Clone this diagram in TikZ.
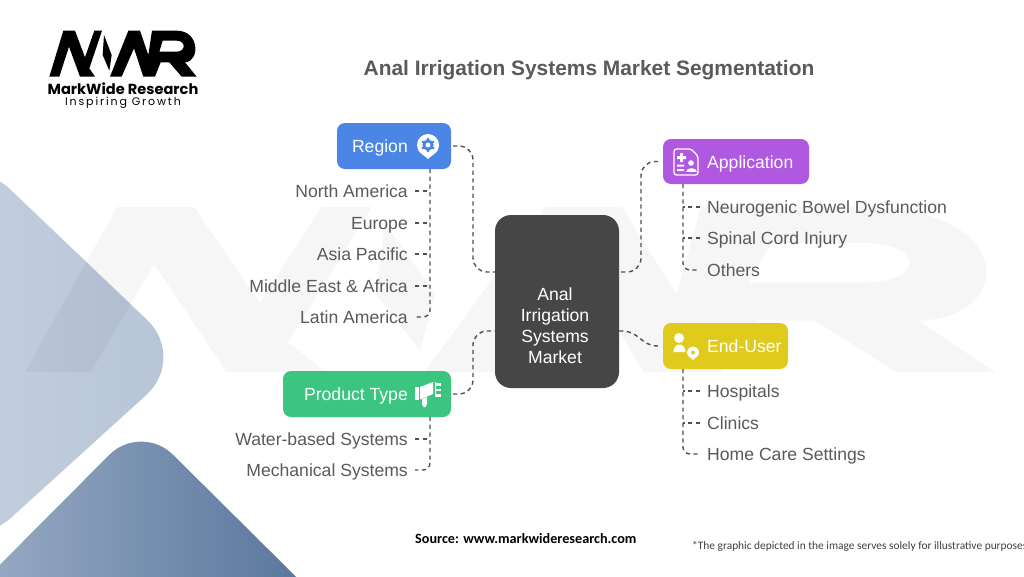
\documentclass[tikz,border=0pt]{standalone}
\usepackage{fontspec}
\setmainfont{Liberation Sans}
\newfontfamily\logofont{Poppins}
\newfontfamily\logospaced[LetterSpace=17]{Poppins}
\newfontfamily\notefont{Carlito}
\usetikzlibrary{arrows.meta,positioning,calc,shapes.geometric}
\definecolor{regionblue}{HTML}{4B86E6}
\definecolor{applypurple}{HTML}{B158E0}
\definecolor{productgreen}{HTML}{3CC481}
\definecolor{useryellow}{HTML}{E0CB1C}
\definecolor{centregrey}{HTML}{464646}
\definecolor{itemgrey}{HTML}{5A5A5A}
\definecolor{linkgrey}{HTML}{505050}
\tikzset{
  catbox/.style={shape=rectangle,rounded corners=8pt,minimum height=46pt,inner sep=0pt,outer sep=0pt},
  catlabel/.style={inner sep=0pt,text=white,text height=12pt,text depth=0pt,font=\fontsize{17.6}{20}\selectfont},
  itemleft/.style={anchor=east,inner sep=0pt,text=itemgrey,text height=12pt,text depth=0pt,font=\fontsize{17.6}{20}\selectfont},
  itemright/.style={anchor=west,inner sep=0pt,text=itemgrey,text height=12pt,text depth=0pt,font=\fontsize{17.6}{20}\selectfont},
  linkdash/.style={draw=linkgrey,line width=1.4pt,dash pattern=on 4.2pt off 3.5pt},
}
\newcommand{\mwrmark}{%
  (148,230)--(190,92)--(225,92)--(255,172)--(283,92)--(306,92)--(268,205)--(285,230)--(240,230)--(207,140)--(178,230)--cycle
  (312,105)--(335,165)--(328,212)--(308,165)--cycle
  (330,230)--(385,92)--(420,92)--(445,165)--(456,92)--(530,92)..controls (600,92) and (600,185) .. (555,187)--(590,230)--(545,230)--(508,187)--(482,187)--(465,230)--(430,230)--(402,145)--(365,230)--cycle
  (488,122)--(530,122)..controls (558,122) and (558,155) .. (530,155)--(478,155)--cycle}
\begin{document}
\begin{tikzpicture}[x=1pt,y=-1pt]
  \useasboundingbox (0,0) rectangle (1024,576);
  \fill[white] (0,0) rectangle (1024,576);
  \begin{scope}
    \clip (0,0) rectangle (1024,576);
    \shade[rounded corners=55pt,shading angle=120,
      left color={rgb,255:red,208;green,217;blue,228},right color={rgb,255:red,182;green,196;blue,214}]
      (-30,151) -- (187,358) -- (-30,555) -- (-250,355) -- cycle;
    \shade[rounded corners=45pt,shading angle=115,
      left color={rgb,255:red,168;green,184;blue,206},right color={rgb,255:red,72;green,104;blue,146}]
      (141,423) -- (391,671) -- (141,920) -- (-100,665) -- cycle;
  \end{scope}
  \begin{scope}[shift={(-300,97)},xscale=2.195,yscale=1.196]
    \fill[black,opacity=0.035,even odd rule] \mwrmark;
  \end{scope}
  \begin{scope}[xscale=1/3,yscale=1/3]
    \fill[black,even odd rule] \mwrmark;
  \end{scope}
  \node[inner sep=0pt,text height=10pt,text depth=0pt,font=\logofont\bfseries\fontsize{14.6}{16}\selectfont] (brand) at (123,89) {MarkWide Research};
  \node[inner sep=0pt,text height=8pt,text depth=0pt,font=\logospaced\fontsize{11}{12}\selectfont] (slogan) at (123,101.5) {Inspiring Growth};
  \node[inner sep=0pt,text=itemgrey,font=\bfseries\fontsize{20.9}{24}\selectfont] (title) at (589,70) {Anal Irrigation Systems Market Segmentation};

  \node[catbox,fill=centregrey,rounded corners=16pt,minimum width=124pt,minimum height=173pt] (centre) at (557,301.5) {};
  \node[inner sep=0pt,text=white,align=center,font=\fontsize{17.6}{21}\selectfont] (centretext) at (555,326) {Anal\\Irrigation\\Systems\\Market};
  \node[catbox,fill=regionblue,minimum width=114pt] (region) at (394,146) {};
  \node[catbox,fill=applypurple,minimum width=146pt,minimum height=45pt] (application) at (736,161.5) {};
  \node[catbox,fill=productgreen,minimum width=168pt] (product) at (367,394) {};
  \node[catbox,fill=useryellow,minimum width=125pt] (enduser) at (725.5,346) {};
  \node[catlabel,anchor=east] (regiontext) at (408,146) {Region};
  \node[catlabel,anchor=west] (applicationtext) at (707,162) {Application};
  \node[catlabel,anchor=east] (producttext) at (408,394) {Product Type};
  \node[catlabel,anchor=west] (endusertext) at (707,346) {End-User};

  \node[itemleft] (northam) at (408,191) {North America};
  \node[itemleft] (europe) at (408,223) {Europe};
  \node[itemleft] (asia) at (408,254) {Asia Pacific};
  \node[itemleft] (mideast) at (408,286) {Middle East \& Africa};
  \node[itemleft] (latin) at (408,317) {Latin America};
  \node[itemleft] (water) at (408,439) {Water-based Systems};
  \node[itemleft] (mech) at (408,470) {Mechanical Systems};
  \node[itemright] (neuro) at (707,207) {Neurogenic Bowel Dysfunction};
  \node[itemright] (spinal) at (707,238) {Spinal Cord Injury};
  \node[itemright] (others) at (707,270) {Others};
  \node[itemright] (hospitals) at (707,391) {Hospitals};
  \node[itemright] (clinics) at (707,423) {Clinics};
  \node[itemright] (homecare) at (707,454) {Home Care Settings};

  \node[inner sep=0pt,anchor=mid west,font=\notefont\bfseries\fontsize{14.2}{16}\selectfont] (source) at (415,541) {Source: www.markwideresearch.com};
  \node[inner sep=0pt,anchor=mid west,text=black!75,font=\notefont\fontsize{11.4}{13}\selectfont] (note) at (692,547) {*The graphic depicted in the image serves solely for illustrative purposes};

  % links to the centre
  \coordinate (leftupper) at ([yshift=29.5]centre.west);
  \coordinate (leftlower) at ([yshift=-29.5]centre.west);
  \coordinate (rightupper) at ([yshift=29.5]centre.east);
  \coordinate (rightlower) at ([yshift=-29.5]centre.east);
  \draw[linkdash,rounded corners=14pt] ([xshift=2]region.east) -| ([xshift=-22]leftupper) -- (leftupper);
  \draw[linkdash,rounded corners=14pt] ([xshift=2]product.east) -| ([xshift=-22]leftlower) -- (leftlower);
  \draw[linkdash,rounded corners=14pt] ([xshift=-5]application.west) -| ([xshift=22]rightupper) -- (rightupper);
  \draw[linkdash] ([xshift=-5]enduser.west) .. controls (640,346) and (640,330) .. (rightlower);

  % trunks and branches
  \coordinate (regiontrunk) at ([xshift=-21]region.south east);
  \coordinate (producttrunk) at ([xshift=-21]product.south east);
  \coordinate (applicationtrunk) at ([xshift=-126]application.south east);
  \coordinate (endusertrunk) at ([xshift=-105]enduser.south east);
  \draw[linkdash,rounded corners=7pt] (regiontrunk) |- ([xshift=7]latin.east);
  \draw[linkdash,rounded corners=7pt] (producttrunk) |- ([xshift=7]mech.east);
  \draw[linkdash,rounded corners=7pt] (applicationtrunk) |- ([xshift=-7]others.west);
  \draw[linkdash,rounded corners=7pt] (endusertrunk) |- ([xshift=-7]homecare.west);
  \foreach \item in {northam,europe,asia,mideast}
    \draw[linkdash] ([xshift=7]\item.east) -- (\item.east -| regiontrunk);
  \draw[linkdash] ([xshift=7]water.east) -- (water.east -| producttrunk);
  \foreach \item in {neuro,spinal}
    \draw[linkdash] ([xshift=-7]\item.west) -- (\item.west -| applicationtrunk);
  \foreach \item in {hospitals,clinics}
    \draw[linkdash] ([xshift=-7]\item.west) -- (\item.west -| endusertrunk);

  % pin with gear
  \begin{scope}[shift={(428,145)}]
    \fill[white] (0,0) circle (11);
    \fill[white] (-10,4.5) .. controls (-7,9) and (-3,11) .. (0,14) .. controls (3,11) and (7,9) .. (10,4.5) -- cycle;
    \fill[regionblue] (0,0) circle (5.6);
    \foreach \a in {30,90,...,330} \fill[regionblue] (\a:5.8) circle (1.6);
    \fill[white] (0,0) circle (2.4);
  \end{scope}
  % chart with cross
  \begin{scope}[shift={(674,149)}]
    \draw[white,line width=1.3pt,rounded corners=2.5pt] (0,0) -- (17,0) -- (24,7) -- (24,26) -- (0,26) -- cycle;
    \fill[white] (6,4) rectangle (9,13) (3,7) rectangle (12,10);
    \fill[white] (17,14) circle (2.8);
    \fill[white] (11.5,23) .. controls (11.5,17.5) and (22.5,17.5) .. (22.5,23) -- cycle;
    \fill[white] (3,15.5) rectangle (10,17.5) (3,20) rectangle (10,22);
  \end{scope}
  % horn
  \begin{scope}[shift={(415,381)}]
    \fill[white] (0,6) rectangle (3.5,19);
    \fill[white] (5,6) -- (18,1) -- (18,13) -- (5,18.5) -- cycle;
    \fill[white] (7,18) -- (12,16) -- (12,23) -- (10.5,26) -- (8.5,26) -- (7,23) -- cycle;
    \foreach \dy in {2,7.5,13} \fill[white] (21,\dy) rectangle (26,\dy+2.5);
    \fill[white] (19.5,1) rectangle (21,15.5);
  \end{scope}
  % person with pin
  \begin{scope}[shift={(679,338)}]
    \fill[white] (0,0) circle (5);
    \fill[white] (-5.5,14) .. controls (-5.5,4) and (6,4) .. (6.5,14) -- cycle;
    \fill[useryellow] (14,14.5) circle (7);
    \fill[white] (14,14.5) circle (5.9);
    \fill[white] (8.6,16.5) -- (14,22) -- (19.4,16.5) -- cycle;
    \fill[useryellow] (14,14.5) circle (2);
  \end{scope}
\end{tikzpicture}
\end{document}
